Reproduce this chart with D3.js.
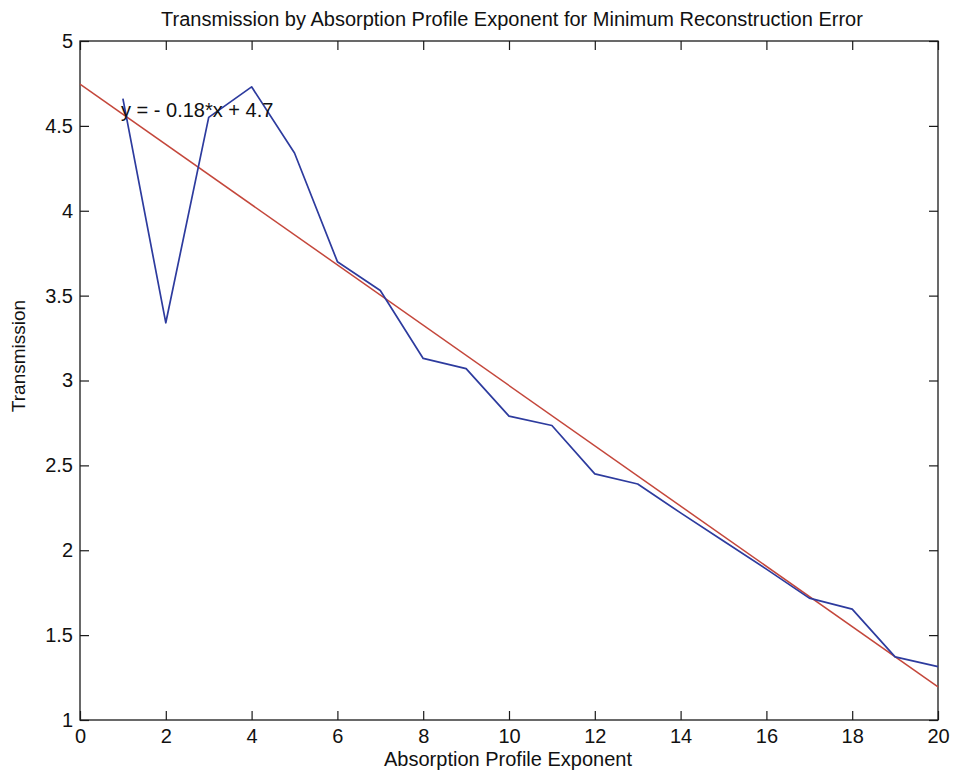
<!DOCTYPE html>
<html>
<head>
<meta charset="utf-8">
<script src="https://cdn.jsdelivr.net/npm/d3@7"></script>
<style>
  html, body { margin: 0; padding: 0; background: #fff; }
  svg { display: block; }
  text { font-family: "Liberation Sans", Arial, Helvetica, sans-serif; fill: #111; }
</style>
</head>
<body>
<svg id="chart" width="953" height="772"></svg>
<script>
// Absorption profile exponent (x) and the transmission at minimum reconstruction error (y)
const exponents = [1, 2, 3, 4, 5, 6, 7, 8, 9, 10, 11, 12, 13, 14, 15, 16, 17, 18, 19, 20];
const transmission = [4.66, 3.34, 4.55, 4.73, 4.34, 3.70, 3.53, 3.13, 3.07, 2.79,
                      2.735, 2.45, 2.39, 2.22, 2.054, 1.889, 1.718, 1.653, 1.372, 1.314];

const xTicks = [0, 2, 4, 6, 8, 10, 12, 14, 16, 18, 20];
const yTicks = [1, 1.5, 2, 2.5, 3, 3.5, 4, 4.5, 5];

const titleText = "Transmission by Absorption Profile Exponent for Minimum Reconstruction Error";
const xLabelText = "Absorption Profile Exponent";
const yLabelText = "Transmission";

// Least-squares linear fit of transmission against exponent
const n = exponents.length;
const mx = d3.mean(exponents), my = d3.mean(transmission);
let sxy = 0, sxx = 0;
for (let i = 0; i < n; i++) {
  sxy += (exponents[i] - mx) * (transmission[i] - my);
  sxx += (exponents[i] - mx) ** 2;
}
const slope = sxy / sxx;
const intercept = my - slope * mx;
const fitLabel = `y = ${slope < 0 ? "- " : ""}${Math.abs(slope).toPrecision(2)}*x + ${intercept.toPrecision(2)}`;

const svg = d3.select("#chart");
const plot = { left: 80, right: 938, top: 41, bottom: 720 };

const x = d3.scaleLinear().domain([0, 20]).range([plot.left, plot.right]);
const y = d3.scaleLinear().domain([1, 5]).range([plot.bottom, plot.top]);

const tickLen = 9;
const axisColor = "#1a1a1a";

// Inward ticks on all four sides, labels on bottom and left only
const bottomAxis = d3.axisBottom(x).tickValues(xTicks).tickSize(-tickLen).tickPadding(9).tickFormat(d3.format("d"));
const topAxis = d3.axisTop(x).tickValues(xTicks).tickSize(-tickLen).tickFormat("");
const leftAxis = d3.axisLeft(y).tickValues(yTicks).tickSize(-tickLen).tickPadding(7).tickFormat(d => String(d));
const rightAxis = d3.axisRight(y).tickValues(yTicks).tickSize(-tickLen).tickFormat("");

function styleAxis(g) {
  g.select(".domain").remove();
  g.selectAll(".tick line").attr("stroke", axisColor).attr("stroke-width", 1.2);
  g.selectAll(".tick text").attr("font-size", 20).attr("fill", "#111")
    .style("font-family", "'Liberation Sans', Arial, sans-serif");
}

svg.append("g").attr("transform", `translate(0,${plot.bottom})`).call(bottomAxis).call(styleAxis);
svg.append("g").attr("transform", `translate(0,${plot.top})`).call(topAxis).call(styleAxis);
svg.append("g").attr("transform", `translate(${plot.left},0)`).call(leftAxis).call(styleAxis);
svg.append("g").attr("transform", `translate(${plot.right},0)`).call(rightAxis).call(styleAxis);

// Plot box
svg.append("rect")
  .attr("x", plot.left).attr("y", plot.top)
  .attr("width", plot.right - plot.left).attr("height", plot.bottom - plot.top)
  .attr("fill", "none").attr("stroke", axisColor).attr("stroke-width", 1.3);

// Fitted line across the full exponent range
const fitX = x.domain();
svg.append("line")
  .attr("x1", x(fitX[0])).attr("y1", y(intercept + slope * fitX[0]))
  .attr("x2", x(fitX[1])).attr("y2", y(intercept + slope * fitX[1]))
  .attr("stroke", "#c4473b").attr("stroke-width", 1.5);

// Measured transmission curve
const line = d3.line().x((d, i) => x(exponents[i])).y(d => y(d));
svg.append("path")
  .datum(transmission)
  .attr("d", line)
  .attr("fill", "none")
  .attr("stroke", "#2d3b9e")
  .attr("stroke-width", 1.7)
  .attr("stroke-linejoin", "round");

// Fit equation annotation
svg.append("text")
  .attr("x", 121).attr("y", 117)
  .attr("font-size", 20)
  .text(fitLabel);

// Title and axis labels
svg.append("text")
  .attr("x", 512).attr("y", 26)
  .attr("text-anchor", "middle")
  .attr("font-size", 20)
  .text(titleText);

svg.append("text")
  .attr("x", 508).attr("y", 766)
  .attr("text-anchor", "middle")
  .attr("font-size", 20)
  .text(xLabelText);

svg.append("text")
  .attr("transform", "translate(25,356) rotate(-90)")
  .attr("text-anchor", "middle")
  .attr("font-size", 19)
  .text(yLabelText);
</script>
</body>
</html>
